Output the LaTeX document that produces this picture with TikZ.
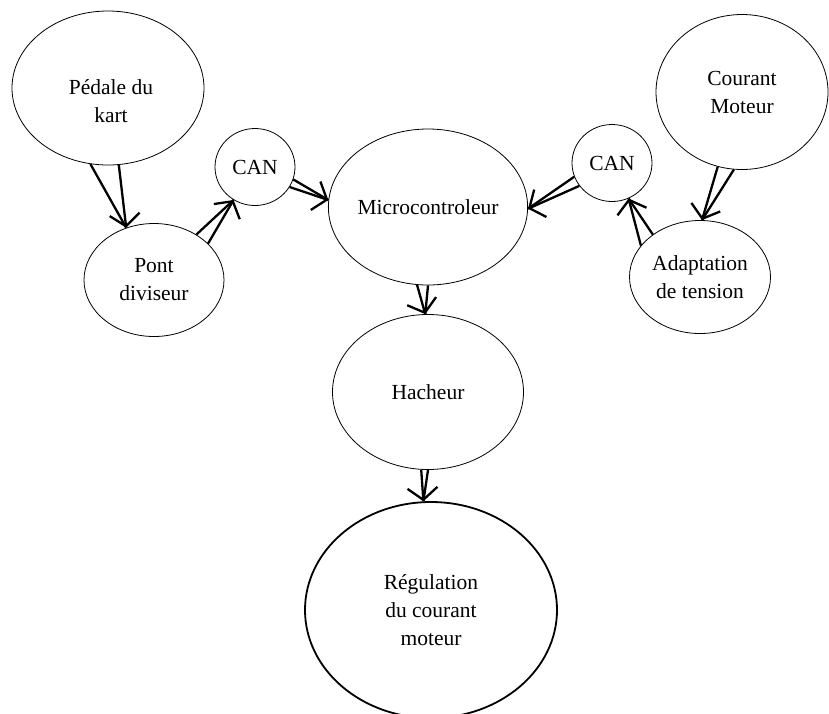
\documentclass[tikz,border=0pt]{standalone}
\usepackage{fontspec}
\setmainfont{Liberation Serif}
\usetikzlibrary{shapes.geometric,arrows.meta}
\tikzset{
  blob/.style={draw, ellipse, line width=0.8pt, inner sep=0pt, align=center,
    font=\fontsize{21.5}{28}\selectfont},
  lbl/.style={align=center, inner sep=0pt, font=\fontsize{21.5}{28}\selectfont},
  conn/.style={line width=2.3pt},
  head/.style={conn, -{Straight Barb[length=12pt, width=30pt, line width=2.3pt]}}
}
\begin{document}
\begin{tikzpicture}[x=1pt, y=-1pt]
\useasboundingbox (0,0) rectangle (829,713);
\node[blob, minimum width=192pt, minimum height=154pt] (ped) at (108,88) {};
\node[lbl] (pedtxt) at (111,101) {Pédale du\\kart};
\node[blob, minimum width=80pt, minimum height=77pt] (canl) at (255,167) {CAN};
\node[blob, minimum width=140pt, minimum height=113pt] (pont) at (154,280) {Pont\\diviseur};
\node[blob, minimum width=190pt, minimum height=156pt] (micro) at (428,207) {Microcontroleur};
\node[blob, minimum width=191pt, minimum height=155pt] (hach) at (428,392) {Hacheur};
\node[blob, minimum width=80pt, minimum height=77pt] (canr) at (612,163) {CAN};
\node[blob, minimum width=172pt, minimum height=155pt] (cour) at (742,92) {Courant\\Moteur};
\node[blob, minimum width=141pt, minimum height=113pt] (adap) at (700,277) {Adaptation\\de tension};
\node[blob, line width=1.8pt, minimum width=252pt, minimum height=216pt] (regu) at (431,610) {Régulation\\du courant\\moteur};

% Pedale -> Pont
\draw[conn] (ped.257.5) -- (pont.118.4);
\draw[head] (ped.278) -- (pont.118.4);
% Pont -> CAN left
\draw[conn] (pont.47.7) -- (canl.237.4);
\draw[head] (pont.34.9) -- (canl.237.4);
% CAN left -> Micro
\draw[conn] (canl.-18) -- (micro.176.9);
\draw[head] (canl.-30) -- (micro.176.9);
% CAN right -> Micro
\draw[conn] (canr.200.6) -- (micro.-1.2);
\draw[head] (canr.215.2) -- (micro.-1.2);
% Adaptation -> CAN right
\draw[conn] (adap.138.2) -- (canr.-65.4);
\draw[head] (adap.152.2) -- (canr.-65.4);
% Courant -> Adaptation
\draw[conn] (cour.264.9) -- (adap.88);
\draw[head] (cour.252.3) -- (adap.88);
% Micro -> Hacheur
\draw[conn] (micro.270) -- (hach.92);
\draw[head] (micro.262.7) -- (hach.92);
% Hacheur -> Regulation
\draw[conn] (hach.270) -- (regu.94.2);
\draw[head] (hach.265.6) -- (regu.94.2);
\end{tikzpicture}
\end{document}
